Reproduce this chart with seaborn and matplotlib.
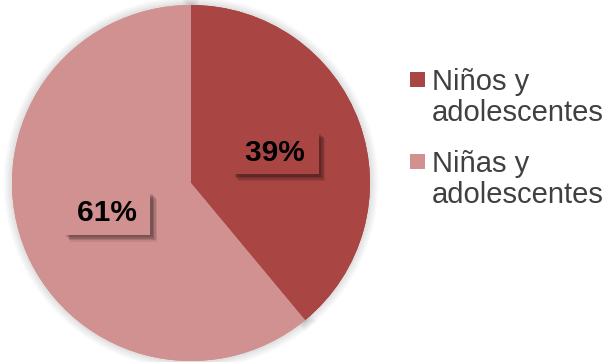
import matplotlib
matplotlib.use("Agg")
import matplotlib.pyplot as plt
import matplotlib.patheffects as pe
from matplotlib.patches import Rectangle, Wedge
from matplotlib.legend_handler import HandlerPatch
from matplotlib.offsetbox import HPacker
import numpy as np
import seaborn as sns

categories = ["Niños y\nadolescentes", "Niñas y\nadolescentes"]
values = [39, 61]
pct_labels = ["39%", "61%"]
colors = ["#A94543", "#D19191"]

sns.set_theme(style="white")
plt.rcParams["font.family"] = ["Liberation Sans", "DejaVu Sans"]

fig = plt.figure(figsize=(6.07, 3.62), dpi=100)
ax = fig.add_axes([12 / 607, 1 / 362, 358 / 607, 356 / 362])

# soft glow layer underneath the pie
glow = [pe.Stroke(linewidth=lw, foreground="black", alpha=0.02)
        for lw in (12, 10, 8, 6, 4, 2.5)]
ax.pie(values, colors=colors, startangle=90, counterclock=False, radius=1.0,
       wedgeprops=dict(linewidth=0, path_effects=glow + [pe.Normal()], zorder=0.5))

wedges, _ = ax.pie(values, colors=colors, startangle=90, counterclock=False,
                   radius=1.0, wedgeprops=dict(linewidth=0, zorder=1))
ax.set_xlim(-1, 1)
ax.set_ylim(-1, 1)
ax.set_aspect("auto")
ax.axis("off")

total = sum(values)
start = 90.0
for v, lab, c in zip(values, pct_labels, colors):
    mid = np.deg2rad(start - v / total * 180.0)
    start -= v / total * 360.0
    t = ax.text(0.5 * np.cos(mid), 0.5 * np.sin(mid), "\u2009" + lab + "\u2009",
                ha="center", va="center", fontsize=21.5, fontweight="bold",
                color="black", zorder=3,
                bbox=dict(boxstyle="square,pad=0.25", facecolor=c, edgecolor="none"))
    t.get_bbox_patch().set_path_effects([
        pe.SimplePatchShadow(offset=(5, -5), shadow_rgbFace="black", alpha=0.08),
        pe.SimplePatchShadow(offset=(4, -4), shadow_rgbFace="black", alpha=0.12),
        pe.SimplePatchShadow(offset=(3, -3), shadow_rgbFace="black", alpha=0.15),
        pe.SimplePatchShadow(offset=(2, -2), shadow_rgbFace="black", alpha=0.15),
        pe.Normal(),
    ])


def square_patch(legend, orig_handle, xdescent, ydescent, width, height, fontsize):
    h = height * 0.78
    return Rectangle((-xdescent, -ydescent), width, h)


leg = fig.legend(wedges, categories, loc="upper left",
                 bbox_to_anchor=(410 / 607, 1 - 68 / 362),
                 frameon=False, fontsize=21, borderpad=0, borderaxespad=0,
                 handlelength=0.52, handleheight=0.62, handletextpad=0.24,
                 labelspacing=0.8, labelcolor="#404040",
                 handler_map={Wedge: HandlerPatch(patch_func=square_patch)})
for t in leg.get_texts():
    t.set_linespacing(1.12)


def set_top(box):
    for ch in box.get_children():
        if isinstance(ch, HPacker) and len(ch.get_children()) == 2:
            ch.align = "top"
        elif hasattr(ch, "get_children"):
            set_top(ch)


set_top(leg._legend_handle_box)

fig.savefig("out.png", dpi=100)
